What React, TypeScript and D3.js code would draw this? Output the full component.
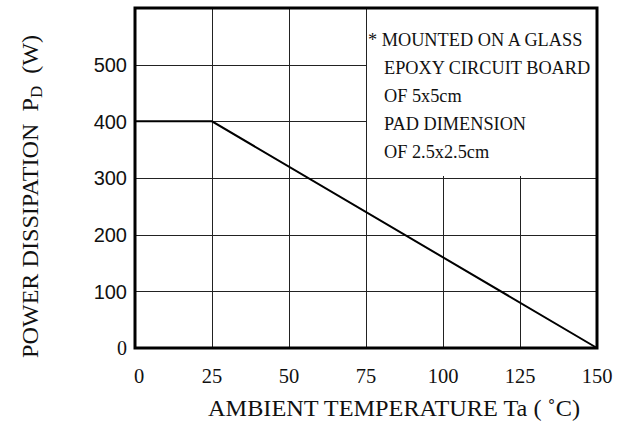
import React from 'react';
import * as d3 from 'd3';

// derating curve
const tempPoints = [0, 25, 150];
const powerPoints = [400, 400, 0];
const xTicks = [0, 25, 50, 75, 100, 125, 150];
const yTicks = [0, 100, 200, 300, 400, 500];
const noteLines = [
  '* MOUNTED ON A GLASS',
  'EPOXY CIRCUIT BOARD',
  'OF 5x5cm',
  'PAD DIMENSION',
  'OF 2.5x2.5cm',
];

const W = 630;
const H = 423;
const left = 135, right = 597, top = 8, bottom = 348;
const serif = '"Liberation Serif", "Times New Roman", serif';
const sans = '"Liberation Sans", Arial, sans-serif';

const App = () => {
  const x = d3.scaleLinear().domain([0, 150]).range([left, right]);
  const y = d3.scaleLinear().domain([0, 600]).range([bottom, top]);

  const line = d3.line<number>()
    .x((d) => x(tempPoints[d]))
    .y((d) => y(powerPoints[d]));

  const boxX = x(75);
  const boxBottom = y(300) - 2;

  return (
    <svg width={W} height={H} style={{ position: 'absolute', left: 0, top: 0, background: '#fff' }}>
      <rect x={0} y={0} width={W} height={H} fill="#fff" />
      {/* grid */}
      <g stroke="#222" strokeWidth={1} shapeRendering="crispEdges">
        {yTicks.filter((t) => t > 0).map((t) => (
          <line key={'h' + t} x1={left} x2={right} y1={Math.round(y(t)) + 0.5} y2={Math.round(y(t)) + 0.5} />
        ))}
        {xTicks.filter((t) => t > 0 && t < 150).map((t) => (
          <line key={'v' + t} x1={Math.round(x(t)) + 0.5} x2={Math.round(x(t)) + 0.5} y1={top} y2={bottom} />
        ))}
      </g>
      {/* note box covers the grid */}
      <rect x={boxX + 1} y={top} width={right - boxX - 1} height={boxBottom - top} fill="#fff" />
      <g fontFamily={serif} fontSize={18.3} fill="#111">
        {noteLines.map((s, i) => (
          <text key={s} x={i === 0 ? 368 : 384} y={46 + i * 28}>{s}</text>
        ))}
      </g>
      {/* curve */}
      <path d={line(d3.range(tempPoints.length)) || ''} fill="none" stroke="#000" strokeWidth={2} />
      {/* frame */}
      <rect x={left} y={top} width={right - left} height={bottom - top} fill="none" stroke="#000" strokeWidth={3} />
      {/* y ticks */}
      <g fontSize={20} fill="#111" textAnchor="end">
        {yTicks.map((t) => (
          <text key={t} x={127} y={y(t)} dy="0.36em" fontFamily={t === 0 ? serif : sans}>{t}</text>
        ))}
      </g>
      {/* x ticks */}
      <g fontSize={20.5} fill="#111" textAnchor="middle" fontFamily={serif}>
        {xTicks.map((t) => (
          <text key={t} x={x(t) + (t === 0 ? 4 : 0)} y={383}>{t}</text>
        ))}
      </g>
      <text
        x={208}
        y={416}
        fontFamily={serif}
        fontSize={23}
        fill="#111"
        textLength={372}
        lengthAdjust="spacingAndGlyphs"
        style={{ whiteSpace: 'pre' }}
      >
        AMBIENT TEMPERATURE Ta ( ˚C)
      </text>
      <text
        transform="translate(38,358) rotate(-90)"
        fontFamily={serif}
        fontSize={23}
        fill="#111"
        textLength={323}
        lengthAdjust="spacingAndGlyphs"
        style={{ whiteSpace: 'pre' }}
      >
        <tspan>POWER DISSIPATION  P</tspan>
        <tspan fontSize={16} dy={4}>D</tspan>
        <tspan dy={-4}>  (W)</tspan>
      </text>
    </svg>
  );
};

export default App;
